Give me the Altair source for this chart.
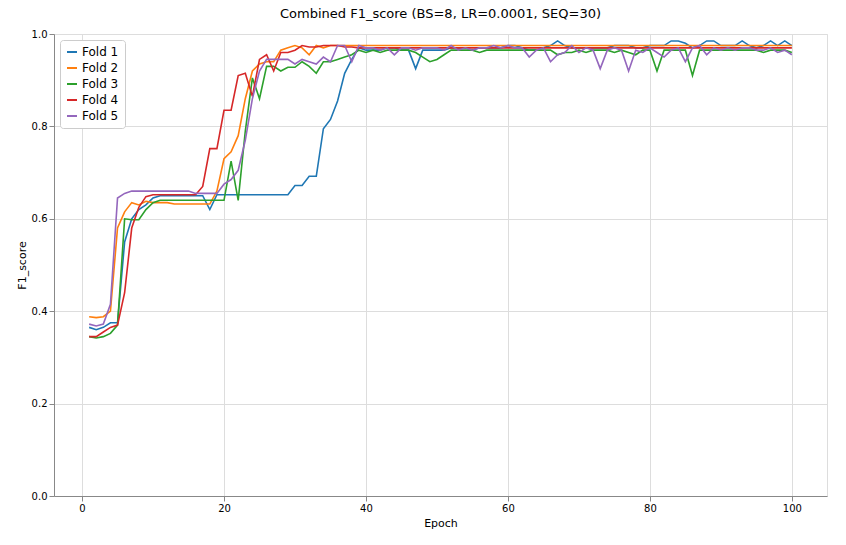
import altair as alt
import pandas as pd

epochs = list(range(1, 101))

fold1 = [0.365, 0.36, 0.365, 0.375, 0.375, 0.55, 0.60, 0.62, 0.63, 0.645,
         0.65, 0.65, 0.65, 0.65, 0.65, 0.65, 0.65, 0.62, 0.652, 0.652,
         0.652, 0.652, 0.652, 0.652, 0.652, 0.652, 0.652, 0.652, 0.652, 0.672,
         0.672, 0.692, 0.692, 0.795, 0.815, 0.855, 0.915, 0.945, 0.97, 0.965,
         0.965, 0.965, 0.97, 0.97, 0.965, 0.965, 0.925, 0.965, 0.965, 0.965,
         0.965, 0.97, 0.97, 0.97, 0.965, 0.97, 0.97, 0.97, 0.97, 0.975,
         0.975, 0.97, 0.965, 0.965, 0.97, 0.975, 0.985, 0.975, 0.97, 0.97,
         0.97, 0.97, 0.97, 0.97, 0.975, 0.975, 0.975, 0.97, 0.97, 0.975,
         0.975, 0.975, 0.985, 0.985, 0.98, 0.97, 0.975, 0.985, 0.985, 0.975,
         0.975, 0.975, 0.985, 0.975, 0.97, 0.975, 0.985, 0.975, 0.985, 0.975]

fold2 = [0.388, 0.386, 0.388, 0.40, 0.58, 0.615, 0.635, 0.63, 0.638, 0.635,
         0.635, 0.635, 0.632, 0.632, 0.632, 0.632, 0.632, 0.632, 0.66, 0.73,
         0.745, 0.78, 0.86, 0.92, 0.935, 0.94, 0.94, 0.965, 0.97, 0.975,
         0.97, 0.955, 0.975, 0.97, 0.975, 0.975, 0.975, 0.975, 0.975, 0.975,
         0.975, 0.975, 0.975, 0.975, 0.975, 0.975, 0.975, 0.975, 0.975, 0.975,
         0.975, 0.975, 0.975, 0.975, 0.975, 0.975, 0.975, 0.975, 0.975, 0.975,
         0.975, 0.975, 0.975, 0.975, 0.975, 0.975, 0.975, 0.975, 0.975, 0.975,
         0.975, 0.975, 0.975, 0.975, 0.975, 0.975, 0.975, 0.975, 0.975, 0.975,
         0.975, 0.975, 0.975, 0.975, 0.975, 0.975, 0.975, 0.975, 0.975, 0.975,
         0.975, 0.975, 0.975, 0.975, 0.975, 0.975, 0.975, 0.975, 0.975, 0.975]

fold3 = [0.345, 0.342, 0.345, 0.352, 0.37, 0.60, 0.598, 0.598, 0.62, 0.635,
         0.64, 0.64, 0.64, 0.64, 0.64, 0.64, 0.64, 0.64, 0.64, 0.64,
         0.725, 0.64, 0.79, 0.905, 0.86, 0.93, 0.93, 0.92, 0.928, 0.928,
         0.94, 0.93, 0.915, 0.94, 0.94, 0.945, 0.95, 0.955, 0.965, 0.96,
         0.965, 0.96, 0.965, 0.965, 0.965, 0.965, 0.96, 0.95, 0.94, 0.945,
         0.955, 0.965, 0.965, 0.965, 0.965, 0.96, 0.965, 0.965, 0.965, 0.965,
         0.965, 0.965, 0.965, 0.965, 0.965, 0.965, 0.955, 0.96, 0.96, 0.965,
         0.96, 0.965, 0.965, 0.965, 0.96, 0.965, 0.96, 0.955, 0.965, 0.965,
         0.92, 0.965, 0.965, 0.965, 0.965, 0.91, 0.965, 0.965, 0.965, 0.965,
         0.965, 0.965, 0.965, 0.965, 0.965, 0.96, 0.965, 0.965, 0.965, 0.96]

fold4 = [0.345, 0.345, 0.355, 0.365, 0.37, 0.44, 0.58, 0.625, 0.648, 0.652,
         0.652, 0.652, 0.652, 0.652, 0.652, 0.652, 0.67, 0.752, 0.752, 0.835,
         0.835, 0.91, 0.915, 0.865, 0.945, 0.955, 0.92, 0.96, 0.96, 0.965,
         0.975, 0.972, 0.972, 0.975, 0.975, 0.975, 0.972, 0.972, 0.97, 0.97,
         0.97, 0.97, 0.97, 0.97, 0.97, 0.97, 0.97, 0.97, 0.97, 0.97,
         0.97, 0.97, 0.97, 0.97, 0.97, 0.97, 0.97, 0.97, 0.97, 0.97,
         0.97, 0.97, 0.97, 0.97, 0.97, 0.97, 0.97, 0.97, 0.97, 0.97,
         0.97, 0.97, 0.97, 0.97, 0.97, 0.97, 0.97, 0.97, 0.97, 0.97,
         0.97, 0.97, 0.97, 0.97, 0.97, 0.97, 0.97, 0.97, 0.97, 0.97,
         0.97, 0.97, 0.97, 0.97, 0.97, 0.97, 0.97, 0.97, 0.97, 0.97]

fold5 = [0.372, 0.368, 0.372, 0.415, 0.645, 0.655, 0.66, 0.66, 0.66, 0.66,
         0.66, 0.66, 0.66, 0.66, 0.66, 0.655, 0.655, 0.655, 0.655, 0.675,
         0.685, 0.705, 0.77, 0.86, 0.92, 0.945, 0.945, 0.945, 0.945, 0.935,
         0.945, 0.94, 0.935, 0.95, 0.94, 0.975, 0.975, 0.94, 0.975, 0.97,
         0.97, 0.965, 0.97, 0.955, 0.97, 0.97, 0.965, 0.97, 0.97, 0.97,
         0.965, 0.975, 0.965, 0.97, 0.965, 0.97, 0.97, 0.975, 0.97, 0.975,
         0.97, 0.97, 0.95, 0.965, 0.97, 0.94, 0.955, 0.96, 0.975, 0.96,
         0.97, 0.965, 0.925, 0.965, 0.97, 0.965, 0.92, 0.965, 0.96, 0.97,
         0.96, 0.95, 0.965, 0.97, 0.94, 0.97, 0.975, 0.955, 0.97, 0.965,
         0.97, 0.965, 0.97, 0.97, 0.965, 0.965, 0.97, 0.96, 0.965, 0.955]

folds = ["Fold 1", "Fold 2", "Fold 3", "Fold 4", "Fold 5"]
colors = ["#1f77b4", "#ff7f0e", "#2ca02c", "#d62728", "#9467bd"]

rows = []
for name, vals in zip(folds, [fold1, fold2, fold3, fold4, fold5]):
    for e, v in zip(epochs, vals):
        rows.append({"Epoch": e, "F1_score": v, "Fold": name})
df = pd.DataFrame(rows)

chart = alt.Chart(df).mark_line(strokeWidth=1.6, clip=True).encode(
    x=alt.X("Epoch:Q", scale=alt.Scale(domain=[-3.95, 104.95], nice=False),
            axis=alt.Axis(values=[0, 20, 40, 60, 80, 100], format="d",
                          titleFontWeight="normal")),
    y=alt.Y("F1_score:Q", scale=alt.Scale(domain=[0, 1], nice=False),
            axis=alt.Axis(values=[0, 0.2, 0.4, 0.6, 0.8, 1.0], format=".1f",
                          titleFontWeight="normal")),
    color=alt.Color("Fold:N", scale=alt.Scale(domain=folds, range=colors),
                    legend=alt.Legend(title=None, orient="top-left", symbolType="stroke",
                                      symbolStrokeWidth=2, fillColor="white",
                                      strokeColor="#cccccc", padding=6, cornerRadius=3,
                                      labelFontSize=12, offset=6, rowPadding=4)),
).properties(
    width=773, height=462,
    padding={"left": 8, "top": 0, "right": 5, "bottom": 5},
    title=alt.Title("Combined F1_score (BS=8, LR=0.0001, SEQ=30)", fontSize=13,
                    fontWeight="normal", offset=8),
).configure_view(
    stroke="black", strokeWidth=1
).configure_axis(
    grid=True, gridColor="#b0b0b0", gridWidth=0.9, domain=False,
    tickColor="black", labelColor="black", labelFontSize=11, titleFontSize=11,
    titleColor="black",
).configure(font="DejaVu Sans")

chart.save("out.html", embed_options={"renderer": "svg", "actions": False})
